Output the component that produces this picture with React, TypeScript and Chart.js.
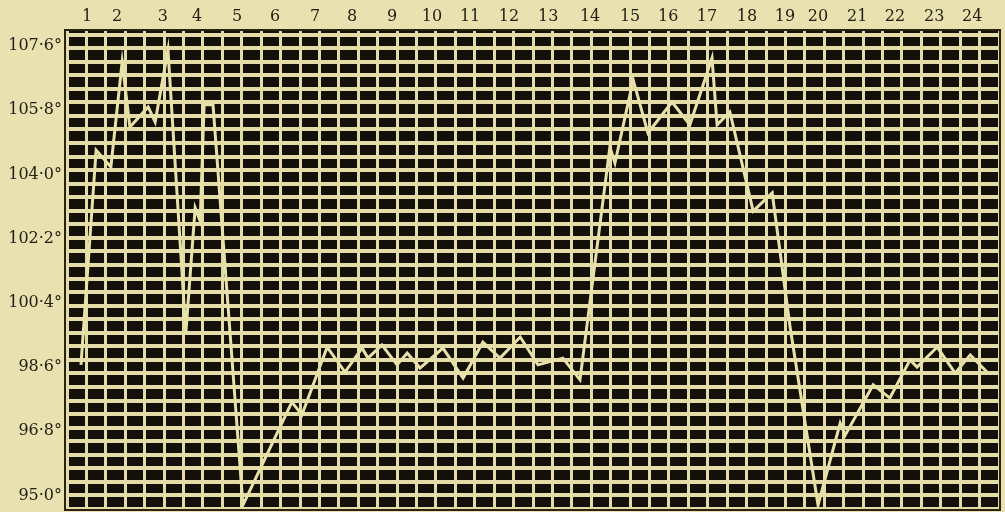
import React, { useEffect, useRef } from "react";
import { Chart, registerables } from "chart.js";

Chart.register(...registerables);

// Time of each reading, in days from the start of the chart
const readingDays = [
  0.36, 0.75, 1.13, 1.42, 1.62, 2.09, 2.27, 2.6, 3.06, 3.3, 3.43, 3.53, 3.76,
  4.53, 5.79, 6.05, 6.7, 7.16, 7.6, 7.75, 8.11, 8.5, 8.76, 9.09, 9.68, 10.2,
  10.71, 11.15, 11.67, 12.13, 12.77, 13.21, 13.98, 14.11, 14.58, 14.96, 15.58,
  16.04, 16.61, 16.74, 17.07, 17.67, 18.16, 18.62, 19.34, 19.91, 20.04, 20.76,
  21.19, 21.71, 21.89, 22.41, 22.87, 23.26, 23.69,
];

// Temperature (°F) of each reading
const temperatures = [
  98.66, 104.68, 104.21, 107.15, 105.33, 105.89, 105.47, 107.49, 99.55, 103.06,
  102.69, 105.95, 105.95, 94.73, 97.62, 97.26, 99.16, 98.46, 99.13, 98.85,
  99.22, 98.66, 98.99, 98.57, 99.13, 98.29, 99.3, 98.85, 99.44, 98.66, 98.85,
  98.24, 104.77, 104.32, 106.65, 105.16, 106.03, 105.39, 107.26, 105.39,
  105.75, 102.97, 103.48, 99.72, 94.73, 97.03, 96.69, 98.1, 97.73, 98.8, 98.6,
  99.16, 98.43, 98.94, 98.46,
];

// Day numbers along the top and where they are printed
const dayLabels = [
  "1", "2", "3", "4", "5", "6", "7", "8", "9", "10", "11", "12", "13", "14",
  "15", "16", "17", "18", "19", "20", "21", "22", "23", "24",
];
const dayLabelPositions = [
  0.52, 1.29, 2.47, 3.35, 4.38, 5.36, 6.39, 7.34, 8.37, 9.4, 10.38, 11.38,
  12.39, 13.47, 14.5, 15.48, 16.48, 17.51, 18.49, 19.34, 20.35, 21.32, 22.33,
  23.31,
];

// Temperature tick labels on the left
const tempTicks = [95.0, 96.8, 98.6, 100.4, 102.2, 104.0, 105.8, 107.6];

const Y_MIN = 94.62;
const Y_MAX = 108.02;
const DAYS = 24;

const PAGE_BG = "#e9e1b0";
const CELL = "#130f09";
const GRID = "#e3dca6";
const LINE = "#e8e1a8";
const TEXT = "#221e11";
const FONT = "'DejaVu Serif', 'Liberation Serif', serif";

export default function App() {
  const ref = useRef<HTMLCanvasElement>(null);

  useEffect(() => {
    document.body.style.margin = "0";
    document.body.style.background = PAGE_BG;
    const canvas = ref.current;
    if (!canvas) return;

    const colLines: number[] = [];
    for (let i = 0; i <= DAYS * 2; i++) colLines.push(i / 2);
    const rowLines: number[] = [];
    for (let v = 95.0 - 0.38; v <= Y_MAX + 1e-6; v += 0.38) rowLines.push(v);

    const plotPlugin = {
      id: "plotPlugin",
      beforeDraw(chart: any) {
        const { ctx, chartArea: a } = chart;
        ctx.save();
        ctx.fillStyle = CELL;
        ctx.fillRect(a.left, a.top, a.right - a.left, a.bottom - a.top);
        ctx.restore();
      },
      afterDraw(chart: any) {
        const { ctx, chartArea: a } = chart;
        ctx.save();
        ctx.strokeStyle = "#2a2212";
        ctx.lineWidth = 2;
        ctx.strokeRect(a.left - 2, a.top - 1, a.right - a.left + 3, a.bottom - a.top + 2);
        ctx.restore();
      },
    };

    const noPad = (s: any) => {
      s.paddingTop = 0;
      s.paddingBottom = 0;
    };

    const chart = new Chart(canvas, {
      type: "line",
      data: {
        datasets: [
          {
            data: readingDays.map((d, i) => ({ x: d, y: temperatures[i] })),
            borderColor: LINE,
            borderWidth: 3,
            pointRadius: 0,
            tension: 0,
            xAxisID: "x",
            yAxisID: "y",
          },
        ],
      },
      options: {
        animation: false,
        responsive: false,
        maintainAspectRatio: false,
        layout: { padding: { left: 0, right: 6, top: 0, bottom: 3 } },
        plugins: { legend: { display: false }, tooltip: { enabled: false } },
        scales: {
          x: {
            type: "linear",
            position: "bottom",
            min: 0,
            max: DAYS,
            afterBuildTicks: (s: any) => {
              s.ticks = colLines.map((v) => ({ value: v }));
            },
            ticks: { display: false, autoSkip: false },
            grid: { color: GRID, lineWidth: 3, drawTicks: false },
            border: { display: false },
            afterFit: (s: any) => {
              s.height = 0;
            },
          },
          xTop: {
            type: "linear",
            position: "top",
            min: 0,
            max: DAYS,
            afterBuildTicks: (s: any) => {
              s.ticks = dayLabelPositions.map((v) => ({ value: v }));
            },
            ticks: {
              autoSkip: false,
              maxRotation: 0,
              padding: 5,
              color: TEXT,
              font: { family: FONT, size: 16 },
              callback: (_v: any, i: number) => dayLabels[i],
            },
            grid: { display: false, drawTicks: false },
            border: { display: false },
            afterFit: (s: any) => {
              s.height = 31;
            },
          },
          y: {
            type: "linear",
            position: "left",
            min: Y_MIN,
            max: Y_MAX,
            afterBuildTicks: (s: any) => {
              s.ticks = tempTicks.map((v) => ({ value: v }));
            },
            ticks: {
              autoSkip: false,
              padding: 5,
              color: TEXT,
              font: { family: FONT, size: 16 },
              callback: (v: any) => Number(v).toFixed(1).replace(".", "·") + "°",
            },
            grid: { display: false, drawTicks: false },
            border: { display: false },
            afterFit: (s: any) => {
              s.width = 67;
              noPad(s);
            },
          },
          yGrid: {
            type: "linear",
            position: "left",
            min: Y_MIN,
            max: Y_MAX,
            afterBuildTicks: (s: any) => {
              s.ticks = rowLines.map((v) => ({ value: v }));
            },
            ticks: { display: false, autoSkip: false },
            grid: { color: GRID, lineWidth: 4, drawTicks: false },
            border: { display: false },
            afterFit: (s: any) => {
              s.width = 0;
              noPad(s);
            },
          },
        },
      },
      plugins: [plotPlugin],
    } as any);

    return () => chart.destroy();
  }, []);

  return (
    <canvas
      ref={ref}
      width={1005}
      height={512}
      style={{ display: "block", width: 1005, height: 512 }}
    />
  );
}
